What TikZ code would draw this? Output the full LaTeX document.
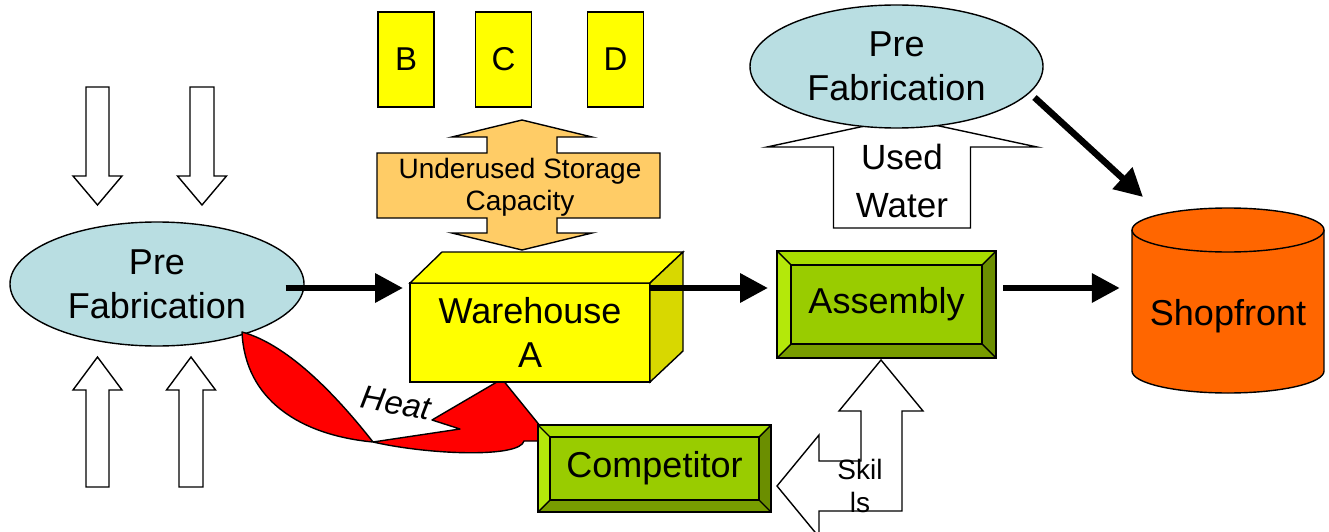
\documentclass[tikz,border=0pt]{standalone}
\usepackage{fontspec}
\setmainfont{Liberation Sans}
\usetikzlibrary{shapes.geometric,arrows.meta,calc}

\definecolor{prefab}{RGB}{185,222,226}
\definecolor{storage}{RGB}{255,204,102}
\definecolor{whyellow}{RGB}{255,255,0}
\definecolor{whside}{RGB}{216,216,0}
\definecolor{shopfill}{RGB}{255,102,0}
\definecolor{heatred}{RGB}{255,0,0}
\definecolor{bvcenter}{RGB}{153,204,0}
\definecolor{bvtop}{RGB}{168,220,0}
\definecolor{bvleft}{RGB}{180,232,10}
\definecolor{bvright}{RGB}{107,142,0}
\definecolor{bvbottom}{RGB}{120,156,0}

% vertical block arrow: centre x, tip y, head base y, tail y, head half width, shaft half width
\newcommand\vblockarrow[6]{%
  \draw[blockarrow] (#1,#2) -- (#1+#5,#3) -- (#1+#6,#3) -- (#1+#6,#4)
    -- (#1-#6,#4) -- (#1-#6,#3) -- (#1-#5,#3) -- cycle;}

% bevelled faces round a rectangular node: node name, bevel depth
\newcommand\bevelfaces[2]{%
  \fill[bvtop] (#1.north west) -- (#1.north east) -- ([shift={(-#2,#2)}]#1.north east)
    -- ([shift={(#2,#2)}]#1.north west) -- cycle;
  \fill[bvleft] (#1.north west) -- ([shift={(#2,#2)}]#1.north west)
    -- ([shift={(#2,-#2)}]#1.south west) -- (#1.south west) -- cycle;
  \fill[bvright] (#1.north east) -- (#1.south east) -- ([shift={(-#2,-#2)}]#1.south east)
    -- ([shift={(-#2,#2)}]#1.north east) -- cycle;
  \fill[bvbottom] (#1.south west) -- ([shift={(#2,-#2)}]#1.south west)
    -- ([shift={(-#2,-#2)}]#1.south east) -- (#1.south east) -- cycle;
  \draw[outline] ([shift={(#2,#2)}]#1.north west) rectangle ([shift={(-#2,-#2)}]#1.south east);
  \draw[outline] (#1.north west) -- ([shift={(#2,#2)}]#1.north west)
    (#1.north east) -- ([shift={(-#2,#2)}]#1.north east)
    (#1.south west) -- ([shift={(#2,-#2)}]#1.south west)
    (#1.south east) -- ([shift={(-#2,-#2)}]#1.south east);
  \draw[outline] (#1.north west) rectangle (#1.south east);}

\begin{document}
\begin{tikzpicture}[x=1pt,y=-1pt,
  outline/.style={draw=black,line width=1.4pt,line join=miter},
  blockarrow/.style={outline,fill=white},
  flow/.style={line width=6.5pt,-{Triangle[length=28pt,width=28pt]}},
  bigtext/.style={font=\fontsize{36}{44}\selectfont,align=center},
  prefabnode/.style={ellipse,outline,fill=prefab,inner sep=0pt,bigtext},
  bevelnode/.style={rectangle,fill=bvcenter,outer sep=0pt,inner sep=0pt,bigtext},
  letterbox/.style={outline,fill=whyellow,minimum width=56,minimum height=95,
    inner sep=0pt,font=\fontsize{33}{40}\selectfont}
]
\fill[white] (0,0) rectangle (1329,532);
\useasboundingbox (0,0) rectangle (1329,532);

% inflows and outflows round the first pre-fabrication stage
\vblockarrow{97.5}{205}{176}{87}{24.5}{11.5}
\vblockarrow{202}{205}{176}{87}{24.5}{12}
\vblockarrow{97.5}{357}{390}{487}{24.5}{11.5}
\vblockarrow{191}{357}{390}{487}{24.5}{12}

\node[prefabnode,minimum width=294,minimum height=124] (pre1) at (157,284) {Pre\\Fabrication};

% heat loss curving from pre-fabrication to the competitor
\filldraw[outline,fill=heatred,line join=round]
  (242,332) .. controls (245,400) and (300,435) .. (373,442)
  -- (460,429) -- (432,420) -- (502,379) -- (545,432) -- (545,441) -- (524,441)
  .. controls (520,458) and (430,455) .. (373,442)
  .. controls (340,400) and (290,345) .. (242,332) -- cycle;
\node[rotate=-10,font=\itshape\fontsize{33}{40}\selectfont] (heat) at (396,403) {Heat};

% storage capacity double arrow
\draw[outline,fill=storage] (522,120) -- (592,137) -- (557,137) -- (557,153) -- (660,153)
  -- (660,218) -- (557,218) -- (557,233) -- (592,233) -- (522,250) -- (452,233)
  -- (487,233) -- (487,218) -- (377,218) -- (377,153) -- (487,153) -- (487,137)
  -- (452,137) -- cycle;
\node[align=center,font=\fontsize{28}{32}\selectfont] (storage) at (520,187)
  {Underused Storage\\Capacity};

\node[letterbox] (b) at (406,59.5) {B};
\node[letterbox] (c) at (503.5,59.5) {C};
\node[letterbox] (d) at (615.5,59.5) {D};

% warehouse as a box
\node[outline,fill=whyellow,minimum width=240,minimum height=99,outer sep=0pt,
  inner sep=0pt,bigtext] (wh) at (530,332.5) {Warehouse\\A};
\filldraw[outline,fill=whyellow] (wh.north west) -- ++(32,-31) -- ++(241,0)
  -- (wh.north east) -- cycle;
\filldraw[outline,fill=whside] (wh.north east) -- ++(33,-31) -- ++(0,99)
  -- (wh.south east) -- cycle;

\draw[flow] ([shift={(-19,4)}]pre1.east) -- ([shift={(-7,5)}]wh.north west);

% used water and the second pre-fabrication stage
\draw[blockarrow] (902,118) -- (1037,147) -- (970.5,147) -- (970.5,228)
  -- (833.5,228) -- (833.5,147) -- (767,147) -- cycle;
\node[align=center,font=\fontsize{35}{48}\selectfont] (water) at (902,181) {Used\\Water};
\node[prefabnode,minimum width=293,minimum height=123] (pre2) at (896.5,66.5) {Pre\\Fabrication};

% assembly and competitor
\node[bevelnode,minimum width=219,minimum height=107] (asm) at (886.5,304.5) {Assembly};
\bevelfaces{asm}{14}
\node[bevelnode,minimum width=233,minimum height=87] (comp) at (654.5,468.5) {Competitor};
\bevelfaces{comp}{12}

\draw[flow] ([shift={(0,5)}]wh.north east) -- ([shift={(-9,37)}]asm.north west);

% skills flowing up to assembly and across to the competitor
\draw[blockarrow] (881,360) -- (923,411) -- (902,411) -- (902,511) -- (819,511)
  -- (819,537) -- (777,486) -- (819,435) -- (819,461) -- (861,461) -- (861,411)
  -- (839,411) -- cycle;
\node[align=center,font=\fontsize{28}{33}\selectfont] (skills) at (860,486) {Skil\\ls};

% shopfront drum
\fill[shopfill] (1132,230) rectangle (1324,371);
\fill[shopfill] (1228,371) ellipse [x radius=96pt,y radius=22pt];
\draw[outline] (1132,230) -- (1132,371) arc [start angle=180,end angle=360,
  x radius=96pt,y radius=22pt] -- (1324,230);
\draw[outline,fill=shopfill] (1228,230) ellipse [x radius=96pt,y radius=22pt];
\node[minimum width=192,minimum height=160,inner sep=0pt,bigtext] (shop) at (1228,316) {Shopfront};

\draw[flow] ([shift={(7,37)}]asm.north east) -- ([shift={(-12,-28)}]shop.west);
\draw[flow] ([shift={(138,31)}]pre2.center) -- ([shift={(-85,-119)}]shop.center);
\end{tikzpicture}
\end{document}
